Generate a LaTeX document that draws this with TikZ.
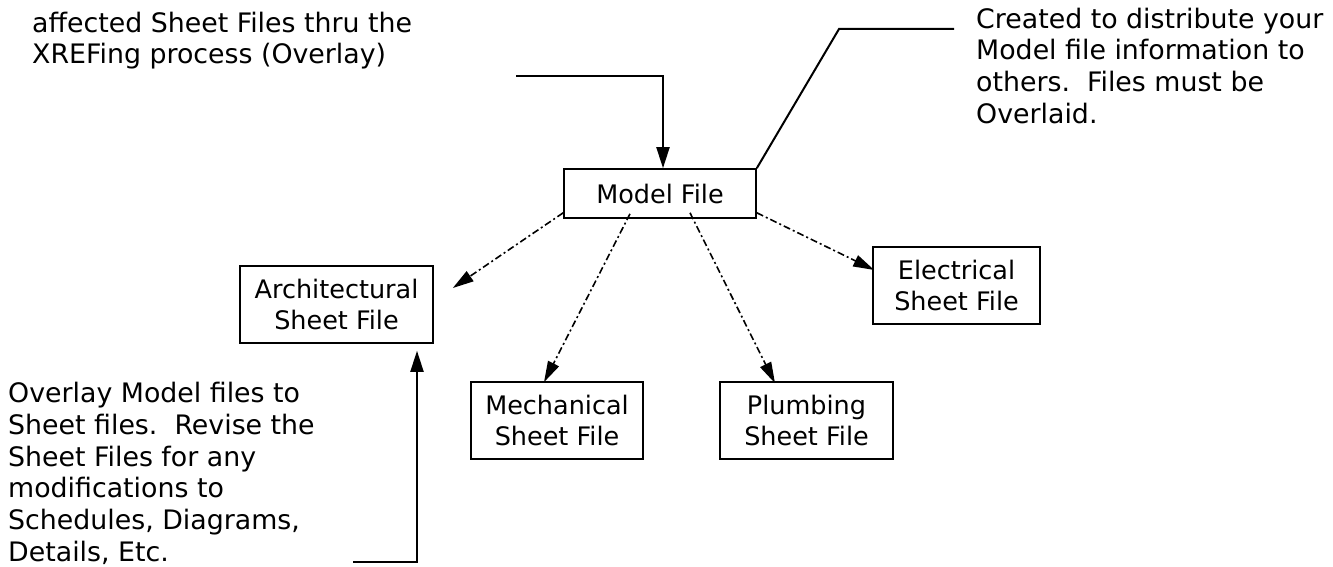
\documentclass[tikz,border=0pt]{standalone}
\usepackage{fontspec}
\setmainfont{DejaVu Sans}
\usetikzlibrary{arrows.meta,calc}
\begin{document}
\begin{tikzpicture}[x=1pt,y=-1pt,
  box/.style={draw, line width=1.6pt, inner sep=0pt, align=center, font=\fontsize{25.5}{31}\selectfont},
  note/.style={inner sep=0pt, anchor=north west, align=left, font=\fontsize{26.8}{31.8}\selectfont},
  solidarrow/.style={line width=2pt, -{Triangle[length=21pt,width=13pt]}},
  leader/.style={line width=2pt},
  dasharrow/.style={line width=1.6pt, dash pattern=on 7pt off 3pt on 2pt off 3pt, -{Triangle[length=21pt,width=12pt]}}]
\useasboundingbox[fill=white] (0,0) rectangle (1333,567);

\node[box, minimum width=192pt, minimum height=49pt] (model) at (660,193.5) {Model File};
\node[box, minimum width=193pt, minimum height=77pt] (arch) at (336.5,304.5) {Architectural\\Sheet File};
\node[box, minimum width=167pt, minimum height=77pt] (elec) at (956.5,285.5) {Electrical\\Sheet File};
\node[box, minimum width=172pt, minimum height=77pt] (mech) at (557,420.5) {Mechanical\\Sheet File};
\node[box, minimum width=173pt, minimum height=77pt] (plumb) at (806.5,420.5) {Plumbing\\Sheet File};

\node[note] (tlt) at (32,11.5) {affected Sheet Files thru the\\XREFing process (Overlay)};
\node[note] (trt) at (976,7.5) {Created to distribute your\\Model file information to\\others.\ \ Files must be\\Overlaid.};
\node[note] (blt) at (8,382) {Overlay Model files to\\Sheet files.\ \ Revise the\\Sheet Files for any\\modifications to\\Schedules, Diagrams,\\Details, Etc.};

\coordinate (tlc) at (516,76);
\coordinate (trc) at (954,29);
\coordinate (blc) at (353,562);

\draw[solidarrow] (tlc) -| ($(model.north)+(3,0)$);
\draw[leader] (model.north east) -- (839,29) -- (trc);
\draw[solidarrow] (blc) -| ($(arch.south)+(80.5,7)$);

\draw[dasharrow] ($(model.south west)+(0,-6)$) -- ($(arch.east)+(19,-16.5)$);
\draw[dasharrow] ($(model.south)+(-30,-5)$) -- ($(mech.north)+(-13,1)$);
\draw[dasharrow] ($(model.south)+(30,-6)$) -- ($(plumb.north)+(-31.5,2)$);
\draw[dasharrow] ($(model.south east)+(0,-6)$) -- ($(elec.west)+(2,-15.5)$);
\end{tikzpicture}
\end{document}
